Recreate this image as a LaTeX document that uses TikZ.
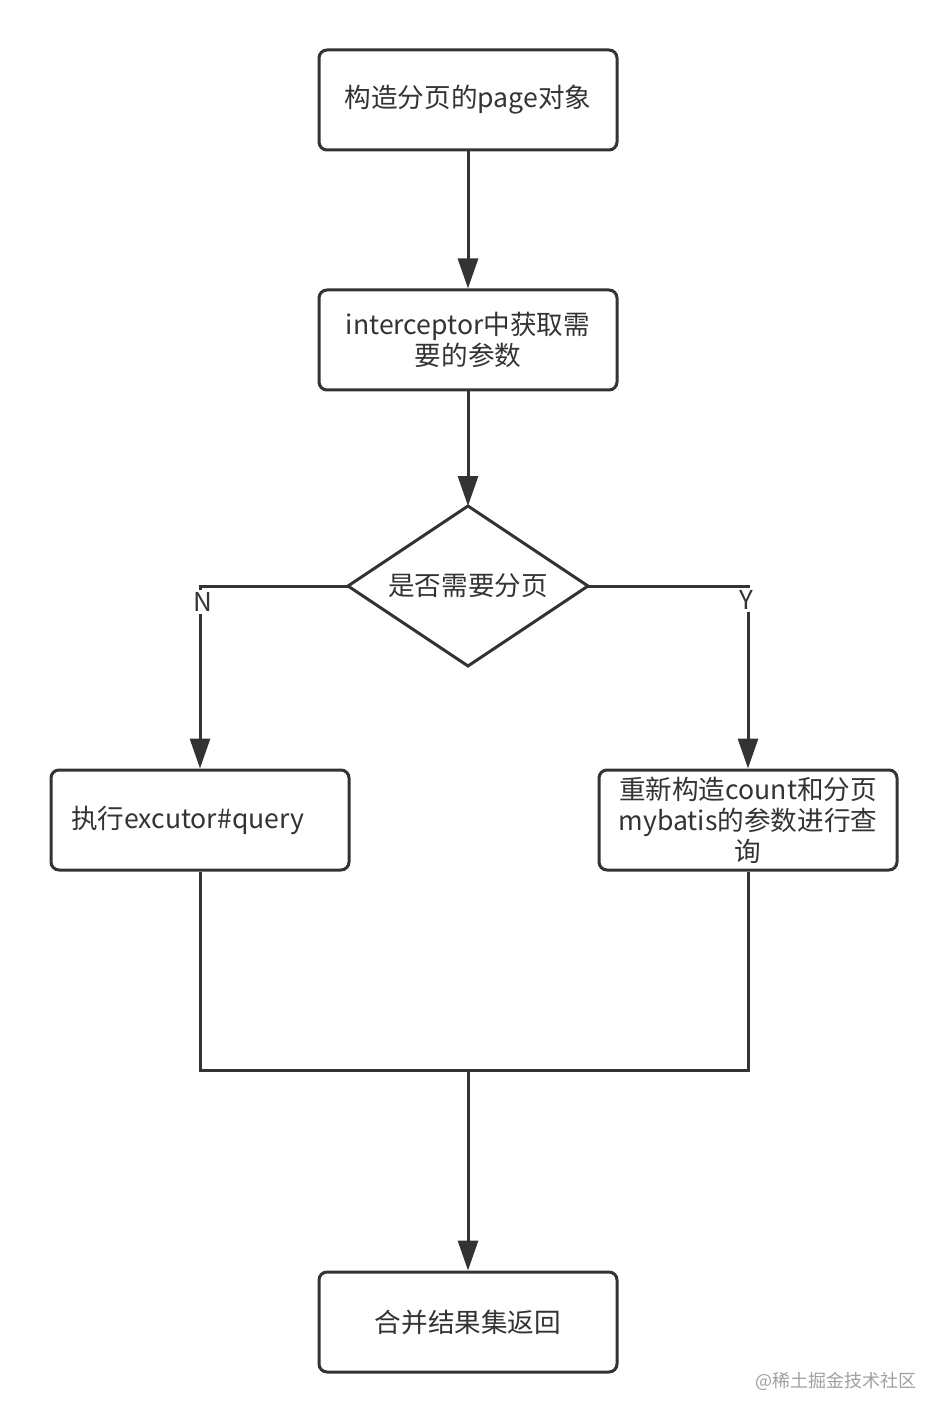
\documentclass[tikz,border=0pt]{standalone}
\usepackage{fontspec}
\setmainfont{Noto Sans CJK SC}
\usetikzlibrary{arrows.meta,calc}
\definecolor{ln}{HTML}{333333}
\definecolor{wm}{HTML}{A0A0A0}
\tikzset{
  procbox/.style={draw=ln, line width=1.5pt, rounded corners=4pt, fill=white,
    minimum width=149pt, minimum height=50pt, inner sep=0pt, align=center,
    text width=142pt, text=ln, font=\fontsize{13.3}{15.5}\selectfont},
  decbox/.style={draw=ln, line width=1.5pt, text=ln, font=\fontsize{13.3}{15.5}\selectfont},
  conn/.style={draw=ln, line width=1.5pt},
  arr/.style={conn, -{Triangle[length=15pt,width=10pt]}},
  elabel/.style={fill=white, text=ln, inner sep=1pt, font=\fontsize{13}{15}\selectfont},
}
\begin{document}
\begin{tikzpicture}[x=0.5pt,y=-0.5pt]
\useasboundingbox (0,0) rectangle (947,1422);
\node[procbox] (b1) at (468,100) {构造分页的page对象};
\node[procbox] (b2) at (468,340) {interceptor中获取需\\要的参数};
\draw[decbox] (348,586) -- (468,506) -- (588,586) -- (468,666) -- cycle;
\node[decbox, draw=none, inner sep=0pt, minimum width=120pt, minimum height=80pt] (d) at (468,586) {是否需要分页};
\coordinate (dw) at (348,586);
\coordinate (de) at (588,586);
\coordinate (dn) at (468,506);
\node[procbox, text width=129pt, inner xsep=10pt, align=left] (b3) at (200,820) {执行excutor\#query};
\node[procbox] (b4) at (748,820) {重新构造count和分页\\mybatis的参数进行查\\询};
\node[procbox] (b5) at (468,1322) {合并结果集返回};
\coordinate (m) at (468,1070);
\draw[arr] (b1) -- (b2);
\draw[arr] (b2) -- (dn);
\draw[arr] (dw) -| (b3.north);
\draw[arr] (de) -| (b4.north);
\node[elabel] (ln) at (203,602) {N};
\node[elabel] (ly) at (746,600) {Y};
\draw[conn] (b3.south) |- (m) -| (b4.south);
\draw[arr] (m) -- (b5);
\node[text=wm, font=\fontsize{9}{11}\selectfont, anchor=east, inner sep=0pt] (wmk) at (917,1381) {@稀土掘金技术社区};
\end{tikzpicture}
\end{document}
